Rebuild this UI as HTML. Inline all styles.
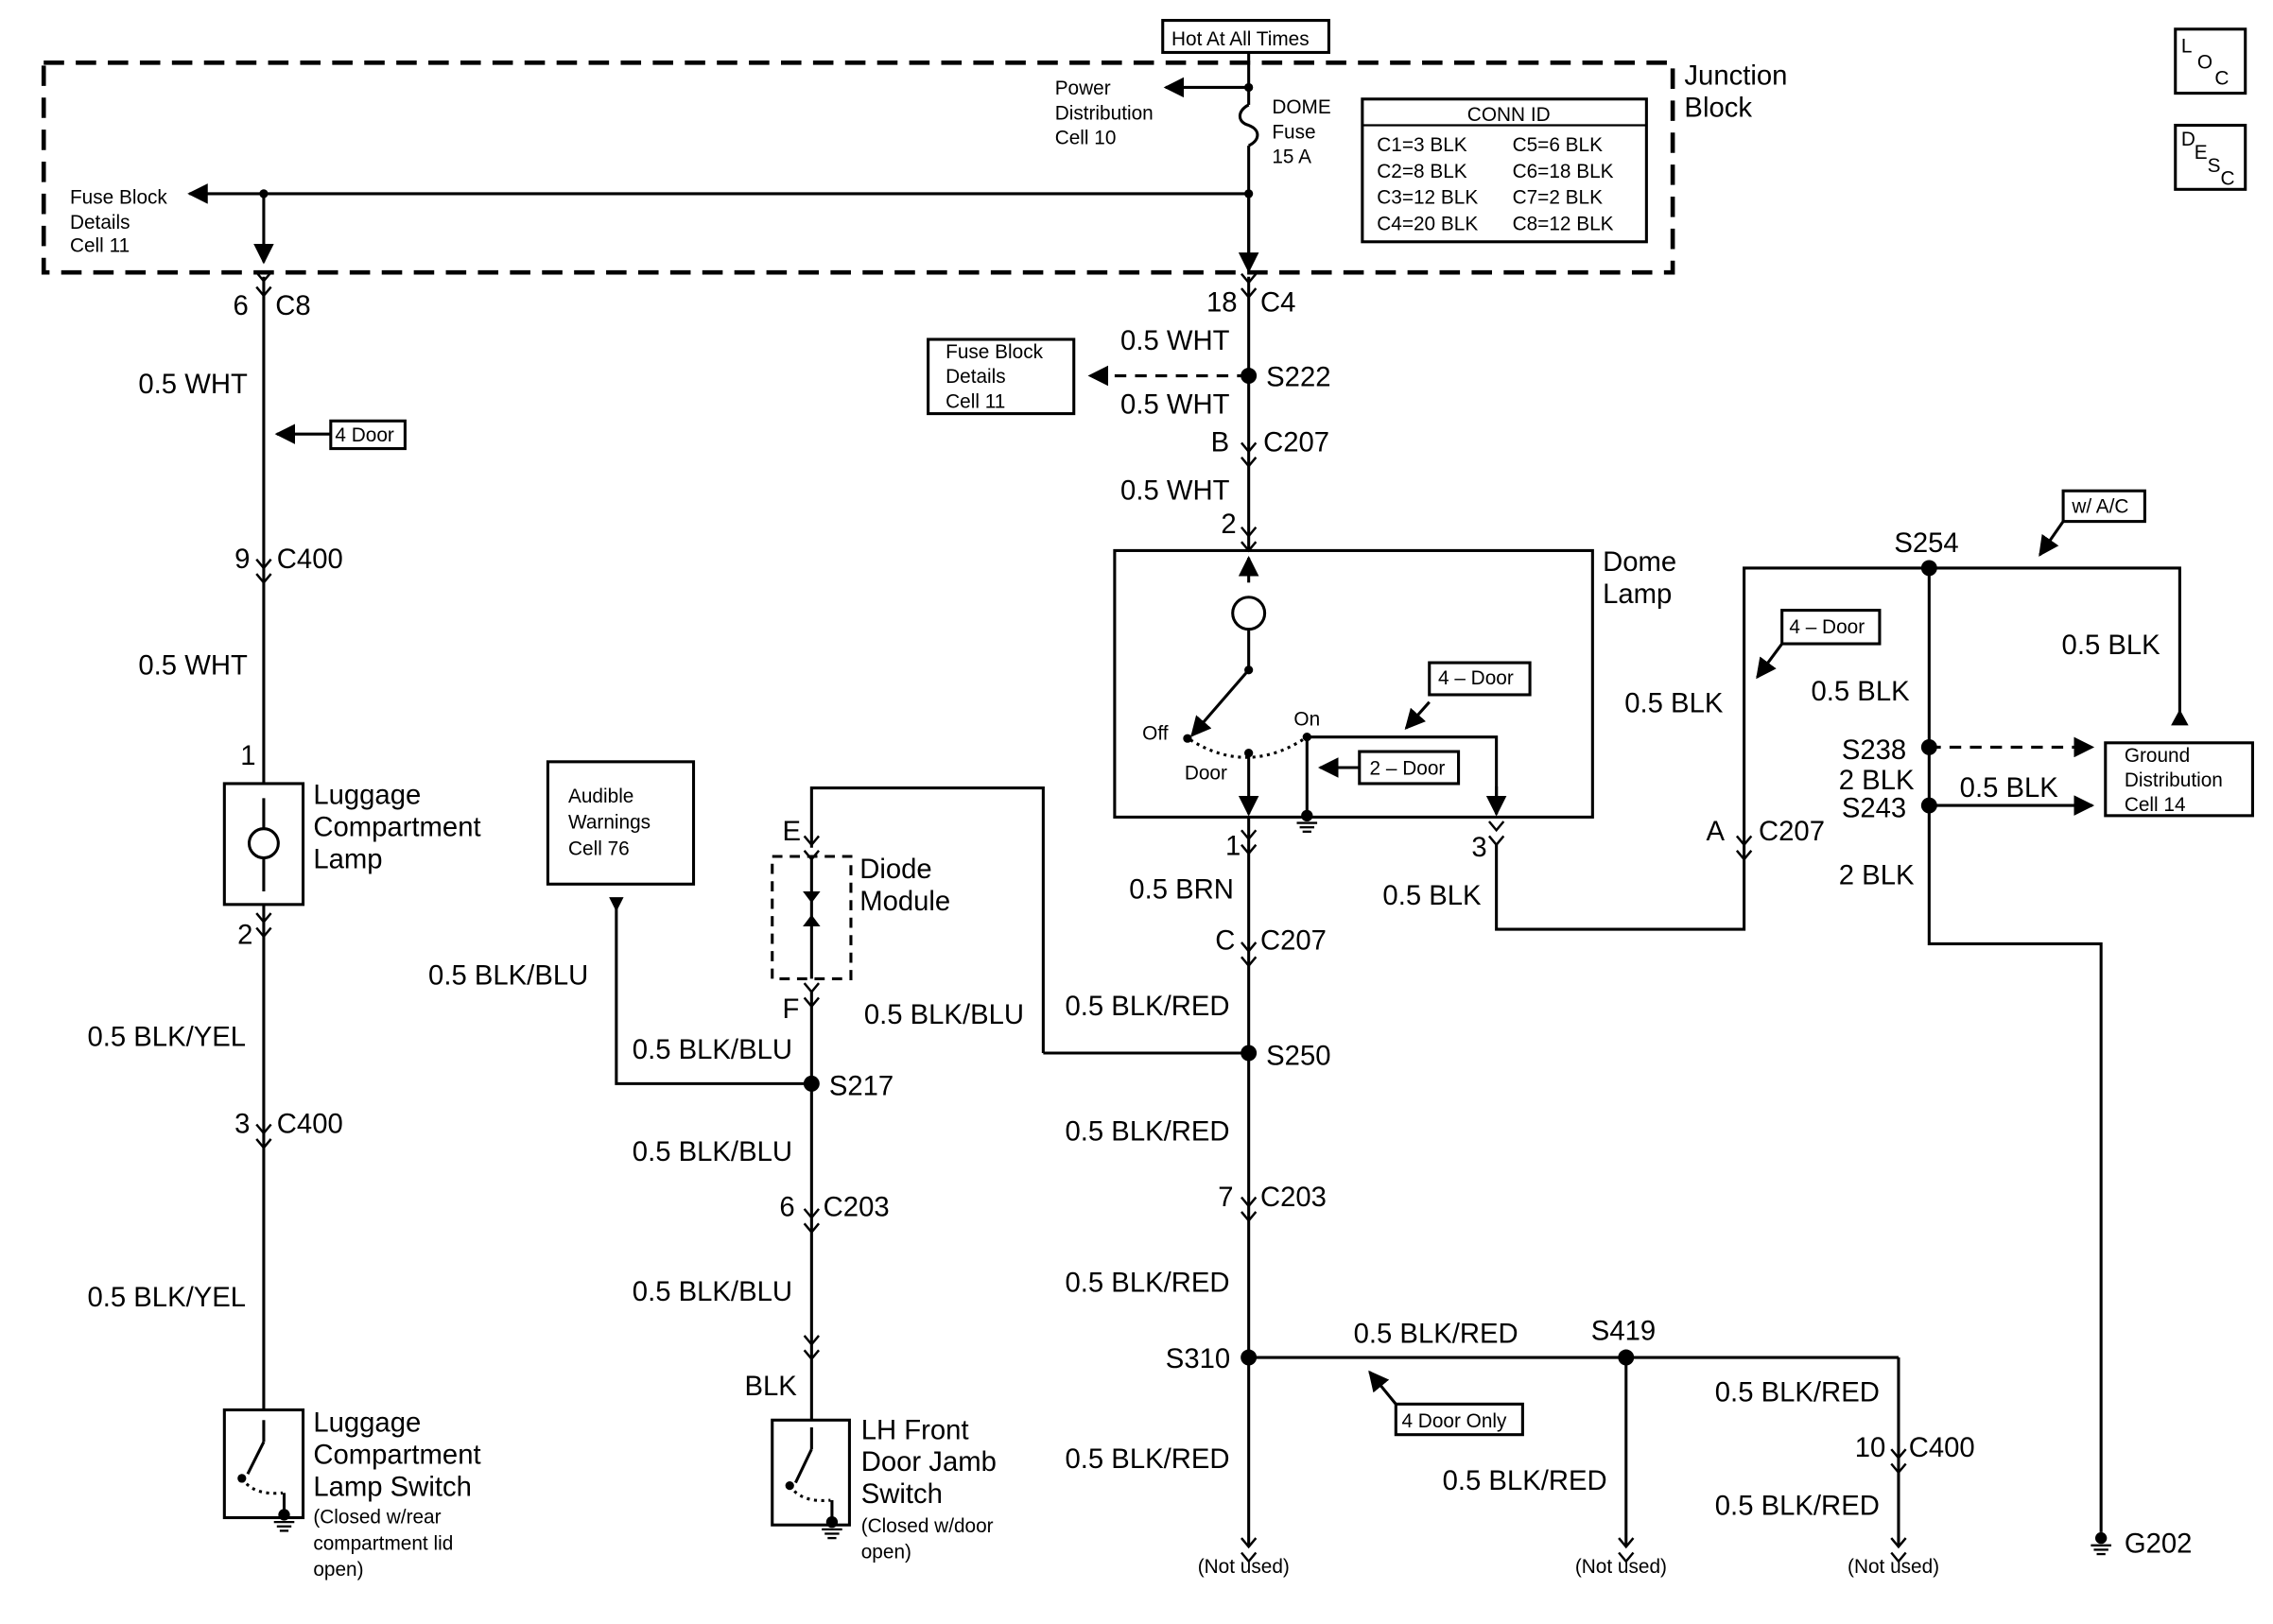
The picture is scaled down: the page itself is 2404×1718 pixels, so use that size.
<!DOCTYPE html>
<html><head><meta charset="utf-8"><style>
html,body{margin:0;padding:0;background:#fff;}
svg{display:block}
text{font-family:"Liberation Sans",Arial,sans-serif;fill:#000}
.b{font-size:19px}
.s{font-size:13.5px}
</style></head><body>
<svg width="2404" height="1718" viewBox="0 0 1560 1115" preserveAspectRatio="none" xmlns="http://www.w3.org/2000/svg">
<defs>
<marker id="ar" viewBox="0 0 10 10" refX="9" refY="5" markerWidth="7" markerHeight="7" orient="auto"><path d="M0,0L10,5L0,10z" fill="#000"/></marker>
<g id="cn"><polyline points="-5,-8 0,-2 5,-8" fill="none" stroke="#000" stroke-width="1.6"/><polyline points="-5,2 0,8 5,2" fill="none" stroke="#000" stroke-width="1.6"/></g>
<g id="gnd"><circle cx="0" cy="0" r="4" fill="#000"/><line x1="-7" y1="5" x2="7" y2="5" stroke="#000" stroke-width="1.5"/><line x1="-5" y1="8" x2="5" y2="8" stroke="#000" stroke-width="1.5"/><line x1="-3" y1="11" x2="3" y2="11" stroke="#000" stroke-width="1.5"/></g>
</defs>
<g stroke="#000" stroke-width="2" fill="none">
<!-- junction block -->
<rect x="30" y="43" width="1118" height="144" stroke-width="3" stroke-dasharray="14,8"/>
<rect x="798" y="14" width="114" height="22" stroke-width="2"/>
<line x1="857" y1="36" x2="857" y2="72"/>
<path d="M857,72 c-8,4 -8,12 0,14 c8,3 8,10 0,14"/>
<line x1="857" y1="100" x2="857" y2="178"/>
<line x1="857" y1="60" x2="800" y2="60" marker-end="url(#ar)"/>
<rect x="935" y="68" width="195" height="98"/>
<line x1="935" y1="86" x2="1130" y2="86" stroke-width="1.5"/>
<line x1="857" y1="133" x2="130" y2="133" marker-end="url(#ar)"/>
<line x1="181" y1="133" x2="181" y2="180" marker-end="url(#ar)"/>
<line x1="857" y1="133" x2="857" y2="186" marker-end="url(#ar)"/>
<!-- left column -->
<line x1="181" y1="190" x2="181" y2="538"/>
<line x1="181" y1="621" x2="181" y2="968"/>
<rect x="154" y="538" width="54" height="83"/>
<rect x="154" y="968" width="54" height="74"/>
<rect x="227" y="289" width="51" height="19"/>
<line x1="227" y1="298" x2="190" y2="298" marker-end="url(#ar)"/>
<circle cx="181" cy="579" r="10"/>
<line x1="181" y1="548" x2="181" y2="569"/><line x1="181" y1="589" x2="181" y2="612"/>
<!-- switch luggage -->
<line x1="181" y1="975" x2="181" y2="990"/><line x1="181" y1="990" x2="170" y2="1012"/>
<path d="M166,1015 q8,12 28,10" stroke-dasharray="2,3"/>
<line x1="195" y1="1025" x2="195" y2="1040"/>
<!-- middle column -->
<line x1="857" y1="190" x2="857" y2="378"/>
<rect x="637" y="233" width="100" height="51"/>
<line x1="857" y1="258" x2="748" y2="258" stroke-dasharray="8,6" marker-end="url(#ar)"/>
<rect x="765" y="378" width="328" height="183"/>
<line x1="857" y1="400" x2="857" y2="383" marker-end="url(#ar)"/>
<circle cx="857" cy="421" r="11"/>
<line x1="857" y1="432" x2="857" y2="460"/>
<line x1="857" y1="460" x2="818" y2="505" marker-end="url(#ar)"/>
<path d="M817,508 q40,25 80,-2" stroke-dasharray="2,3"/>
<line x1="857" y1="517" x2="857" y2="559" marker-end="url(#ar)"/>
<polyline points="897,560 897,506 1027,506 1027,559" />
<line x1="1027" y1="540" x2="1027" y2="559" marker-end="url(#ar)"/>
<rect x="933" y="516" width="68" height="22"/>
<line x1="933" y1="527" x2="906" y2="527" marker-end="url(#ar)"/>
<rect x="981" y="455" width="69" height="22"/>
<line x1="981" y1="482" x2="965" y2="500" marker-end="url(#ar)"/>
<line x1="857" y1="561" x2="857" y2="1062"/>
<polyline points="716,723 716,541 557,541 557,582"/>
<line x1="716" y1="723" x2="857" y2="723"/>
<rect x="530" y="588" width="54" height="84" stroke-dasharray="7,5"/>
<line x1="557" y1="588" x2="557" y2="672"/>
<line x1="557" y1="680" x2="557" y2="975"/>
<rect x="376" y="523" width="100" height="84"/>
<polyline points="423,623 423,744 557,744"/>
<rect x="530" y="975" width="53" height="72"/>
<line x1="557" y1="980" x2="557" y2="995"/><line x1="557" y1="995" x2="546" y2="1018"/>
<path d="M542,1020 q8,12 28,10" stroke-dasharray="2,3"/>
<line x1="571" y1="1030" x2="571" y2="1044"/>
<!-- S310 branch -->
<line x1="857" y1="932" x2="1303" y2="932"/>
<line x1="1116" y1="932" x2="1116" y2="1062"/>
<line x1="1303" y1="932" x2="1303" y2="1062"/>
<rect x="958" y="964" width="87" height="21"/>
<line x1="958" y1="964" x2="940" y2="942" marker-end="url(#ar)"/>
<!-- right -->
<polyline points="1027,580 1027,638 1197,638 1197,390 1496,390 1496,490"/>
<rect x="1223" y="419" width="67" height="23"/>
<line x1="1223" y1="442" x2="1206" y2="465" marker-end="url(#ar)"/>
<rect x="1416" y="337" width="56" height="21"/>
<line x1="1416" y1="358" x2="1400" y2="381" marker-end="url(#ar)"/>
<polyline points="1324,390 1324,648 1442,648 1442,1052"/>
<line x1="1324" y1="513" x2="1436" y2="513" stroke-dasharray="8,6" marker-end="url(#ar)"/>
<line x1="1324" y1="553" x2="1436" y2="553" marker-end="url(#ar)"/>
<rect x="1445" y="510" width="101" height="50"/>
<rect x="1493" y="20" width="48" height="44"/>
<rect x="1493" y="86" width="48" height="44"/>
</g>
<polygon points="418,616 428,616 423,626" fill="#000"/>
<polygon points="1490,498 1502,498 1496,487" fill="#000"/>
<g fill="#000">
<circle cx="181" cy="133" r="3"/><circle cx="857" cy="133" r="3"/><circle cx="857" cy="60" r="3"/>
<circle cx="857" cy="258" r="5.5"/><circle cx="857" cy="723" r="5.5"/><circle cx="557" cy="744" r="5.5"/>
<circle cx="857" cy="932" r="5.5"/><circle cx="1116" cy="932" r="5.5"/>
<circle cx="1324" cy="390" r="5.5"/><circle cx="1324" cy="513" r="5.5"/><circle cx="1324" cy="553" r="5.5"/>
<circle cx="857" cy="460" r="3"/><circle cx="815" cy="507" r="3"/><circle cx="857" cy="517" r="3"/><circle cx="897" cy="506" r="3"/>
<circle cx="166" cy="1015" r="3"/><circle cx="542" cy="1020" r="3"/>
<polygon points="551,612 563,612 557,620"/><polygon points="551,636 563,636 557,628"/>
</g>
<g fill="none" stroke="#fff" stroke-width="0"></g>
<!-- connectors -->
<use href="#cn" x="181" y="195"/><use href="#cn" x="181" y="392"/><use href="#cn" x="181" y="635"/><use href="#cn" x="181" y="780"/>
<use href="#cn" x="857" y="196"/><use href="#cn" x="857" y="312"/><use href="#cn" x="857" y="370"/><use href="#cn" x="857" y="578"/>
<use href="#cn" x="857" y="655"/><use href="#cn" x="857" y="830"/><use href="#cn" x="557" y="582"/><use href="#cn" x="557" y="683"/>
<use href="#cn" x="557" y="838"/><use href="#cn" x="557" y="925"/><use href="#cn" x="1027" y="572"/><use href="#cn" x="1197" y="582"/>
<use href="#cn" x="1303" y="1003"/><use href="#cn" x="857" y="1064"/><use href="#cn" x="1116" y="1064"/><use href="#cn" x="1303" y="1064"/>
<use href="#gnd" x="195" y="1040"/><use href="#gnd" x="571" y="1045"/><use href="#gnd" x="897" y="560"/><use href="#gnd" x="1442" y="1056"/>
<!-- text -->
<text class="s" x="804" y="31">Hot At All Times</text>
<text class="b" x="1156" y="58">Junction</text><text class="b" x="1156" y="80">Block</text>
<text class="s" x="724" y="65">Power</text><text class="s" x="724" y="82">Distribution</text><text class="s" x="724" y="99">Cell 10</text>
<text class="s" x="873" y="78">DOME</text><text class="s" x="873" y="95">Fuse</text><text class="s" x="873" y="112">15 A</text>
<text class="s" x="1007" y="83">CONN ID</text>
<text class="s" x="945" y="104">C1=3 BLK</text><text class="s" x="1038" y="104">C5=6 BLK</text>
<text class="s" x="945" y="122">C2=8 BLK</text><text class="s" x="1038" y="122">C6=18 BLK</text>
<text class="s" x="945" y="140">C3=12 BLK</text><text class="s" x="1038" y="140">C7=2 BLK</text>
<text class="s" x="945" y="158">C4=20 BLK</text><text class="s" x="1038" y="158">C8=12 BLK</text>
<text class="s" x="48" y="140">Fuse Block</text><text class="s" x="48" y="157">Details</text><text class="s" x="48" y="173">Cell 11</text>
<text class="b" x="160" y="216">6</text><text class="b" x="189" y="216">C8</text>
<text class="b" x="95" y="270">0.5 WHT</text><text class="s" x="230" y="303">4 Door</text>
<text class="b" x="161" y="390">9</text><text class="b" x="190" y="390">C400</text>
<text class="b" x="95" y="463">0.5 WHT</text><text class="b" x="165" y="525">1</text>
<text class="b" x="215" y="552">Luggage</text><text class="b" x="215" y="574">Compartment</text><text class="b" x="215" y="596">Lamp</text>
<text class="b" x="163" y="648">2</text><text class="b" x="60" y="718">0.5 BLK/YEL</text>
<text class="b" x="161" y="778">3</text><text class="b" x="190" y="778">C400</text>
<text class="b" x="60" y="897">0.5 BLK/YEL</text>
<text class="b" x="215" y="983">Luggage</text><text class="b" x="215" y="1005">Compartment</text><text class="b" x="215" y="1027">Lamp Switch</text>
<text class="s" x="215" y="1046">(Closed w/rear</text><text class="s" x="215" y="1064">compartment lid</text><text class="s" x="215" y="1082">open)</text>
<text class="b" x="828" y="214">18</text><text class="b" x="865" y="214">C4</text>
<text class="s" x="649" y="246">Fuse Block</text><text class="s" x="649" y="263">Details</text><text class="s" x="649" y="280">Cell 11</text>
<text class="b" x="769" y="240">0.5 WHT</text><text class="b" x="869" y="265">S222</text><text class="b" x="769" y="284">0.5 WHT</text>
<text class="b" x="831" y="310">B</text><text class="b" x="867" y="310">C207</text><text class="b" x="769" y="343">0.5 WHT</text>
<text class="b" x="838" y="366">2</text>
<text class="b" x="1100" y="392">Dome</text><text class="b" x="1100" y="414">Lamp</text>
<text class="s" x="784" y="508">Off</text><text class="s" x="813" y="535">Door</text><text class="s" x="888" y="498">On</text>
<text class="s" x="987" y="470">4 – Door</text><text class="s" x="940" y="532">2 – Door</text>
<text class="b" x="841" y="587">1</text><text class="b" x="1010" y="588">3</text>
<text class="b" x="775" y="617">0.5 BRN</text><text class="b" x="949" y="621">0.5 BLK</text>
<text class="b" x="834" y="652">C</text><text class="b" x="865" y="652">C207</text>
<text class="b" x="731" y="697">0.5 BLK/RED</text><text class="b" x="869" y="731">S250</text><text class="b" x="731" y="783">0.5 BLK/RED</text>
<text class="b" x="836" y="828">7</text><text class="b" x="865" y="828">C203</text><text class="b" x="731" y="887">0.5 BLK/RED</text>
<text class="b" x="800" y="939">S310</text><text class="b" x="731" y="1008">0.5 BLK/RED</text>
<text class="s" x="822" y="1080">(Not used)</text><text class="s" x="1081" y="1080">(Not used)</text><text class="s" x="1268" y="1080">(Not used)</text>
<text class="b" x="929" y="922">0.5 BLK/RED</text><text class="b" x="1092" y="920">S419</text>
<text class="s" x="962" y="980">4 Door Only</text>
<text class="b" x="990" y="1023">0.5 BLK/RED</text><text class="b" x="1177" y="962">0.5 BLK/RED</text>
<text class="b" x="1273" y="1000">10</text><text class="b" x="1310" y="1000">C400</text><text class="b" x="1177" y="1040">0.5 BLK/RED</text>
<text class="s" x="390" y="551">Audible</text><text class="s" x="390" y="569">Warnings</text><text class="s" x="390" y="587">Cell 76</text>
<text class="b" x="537" y="577">E</text><text class="b" x="590" y="603">Diode</text><text class="b" x="590" y="625">Module</text>
<text class="b" x="537" y="699">F</text><text class="b" x="294" y="676">0.5 BLK/BLU</text><text class="b" x="593" y="703">0.5 BLK/BLU</text>
<text class="b" x="434" y="727">0.5 BLK/BLU</text><text class="b" x="569" y="752">S217</text><text class="b" x="434" y="797">0.5 BLK/BLU</text>
<text class="b" x="535" y="835">6</text><text class="b" x="565" y="835">C203</text><text class="b" x="434" y="893">0.5 BLK/BLU</text>
<text class="b" x="511" y="958">BLK</text>
<text class="b" x="591" y="988">LH Front</text><text class="b" x="591" y="1010">Door Jamb</text><text class="b" x="591" y="1032">Switch</text>
<text class="s" x="591" y="1052">(Closed w/door</text><text class="s" x="591" y="1070">open)</text>
<text class="b" x="1115" y="489">0.5 BLK</text><text class="s" x="1228" y="435">4 – Door</text>
<text class="b" x="1171" y="577">A</text><text class="b" x="1207" y="577">C207</text>
<text class="b" x="1300" y="379">S254</text><text class="s" x="1422" y="352">w/ A/C</text>
<text class="b" x="1415" y="449">0.5 BLK</text><text class="b" x="1243" y="481">0.5 BLK</text>
<text class="b" x="1264" y="521">S238</text><text class="b" x="1262" y="542">2 BLK</text><text class="b" x="1264" y="561">S243</text>
<text class="b" x="1345" y="547">0.5 BLK</text><text class="b" x="1262" y="607">2 BLK</text>
<text class="s" x="1458" y="523">Ground</text><text class="s" x="1458" y="540">Distribution</text><text class="s" x="1458" y="557">Cell 14</text>
<text class="b" x="1458" y="1066">G202</text>
<text class="s" x="1497" y="36">L</text><text class="s" x="1508" y="47">O</text><text class="s" x="1520" y="58">C</text>
<text class="s" x="1497" y="100">D</text><text class="s" x="1506" y="109">E</text><text class="s" x="1515" y="118">S</text><text class="s" x="1524" y="127">C</text>
</svg>
</body></html>
